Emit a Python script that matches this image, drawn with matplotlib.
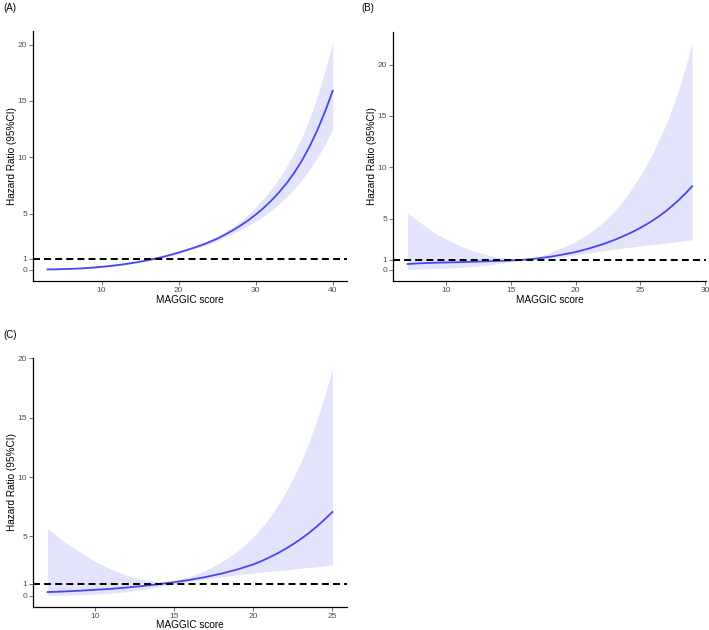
import matplotlib
matplotlib.use("Agg")
import matplotlib.pyplot as plt

plt.rcParams['font.family'] = ['Liberation Sans', 'DejaVu Sans']
plt.rcParams['lines.scale_dashes'] = False

# ---------------- data ----------------
# Panel A
a_x = [3, 4, 5, 6, 7, 8, 9, 10, 11, 12, 13, 14, 15, 16, 17, 18, 19, 20, 21, 22,
       23, 24, 25, 26, 27, 28, 29, 30, 31, 32, 33, 34, 35, 36, 37, 38, 39, 40]
a_hr = [0.04, 0.05, 0.07, 0.09, 0.12, 0.16, 0.21, 0.27, 0.34, 0.42, 0.51, 0.61, 0.73,
        0.86, 1.0, 1.16, 1.34, 1.54, 1.75, 1.97, 2.2, 2.47, 2.77, 3.12, 3.5, 3.92,
        4.38, 4.9, 5.48, 6.13, 6.86, 7.68, 8.62, 9.7, 10.95, 12.4, 14.05, 15.9]
a_lo = [0.022, 0.029, 0.042, 0.057, 0.08, 0.113, 0.156, 0.208, 0.273, 0.351, 0.443,
        0.547, 0.674, 0.806, 0.942, 1.098, 1.268, 1.458, 1.656, 1.855, 2.062, 2.303,
        2.57, 2.88, 3.215, 3.565, 3.92, 4.3, 4.74, 5.25, 5.82, 6.45, 7.16, 7.98,
        8.92, 9.97, 11.16, 12.51]
a_hi = [0.073, 0.087, 0.115, 0.141, 0.179, 0.227, 0.283, 0.351, 0.424, 0.503, 0.587,
        0.681, 0.791, 0.918, 1.062, 1.226, 1.416, 1.627, 1.849, 2.092, 2.348, 2.649,
        2.986, 3.38, 3.811, 4.311, 4.89, 5.58, 6.335, 7.16, 8.09, 9.15, 10.37, 11.79,
        13.44, 15.42, 17.69, 20.2]

# Panel B
b_x = [7, 7.5, 8, 8.5, 9, 9.5, 10, 11, 12, 13, 14, 15, 16, 17, 18, 19, 20, 21, 22,
       22.5, 23, 23.5, 24, 24.5, 25, 25.5, 26, 26.5, 27, 27.5, 28, 28.5, 29]
b_hr = [0.58, 0.62, 0.65, 0.68, 0.7, 0.72, 0.73, 0.76, 0.8, 0.84, 0.88, 0.93, 1.0,
        1.12, 1.28, 1.5, 1.75, 2.08, 2.47, 2.69, 2.93, 3.19, 3.47, 3.77, 4.1, 4.46,
        4.85, 5.28, 5.75, 6.28, 6.85, 7.47, 8.15]
b_lo = [0.03, 0.055, 0.08, 0.105, 0.13, 0.155, 0.18, 0.25, 0.33, 0.45, 0.62, 0.8,
        0.94, 1.02, 1.15, 1.3, 1.47, 1.65, 1.84, 1.93, 2.02, 2.1, 2.18, 2.25, 2.32,
        2.4, 2.47, 2.55, 2.62, 2.7, 2.78, 2.86, 2.95]
b_hi = [5.55, 5.05, 4.6, 4.13, 3.7, 3.33, 3.0, 2.4, 1.9, 1.52, 1.25, 1.1, 1.06, 1.25,
        1.7, 2.2, 2.8, 3.55, 4.5, 5.08, 5.75, 6.48, 7.3, 8.2, 9.2, 10.3, 11.5, 12.85,
        14.2, 15.9, 17.7, 19.8, 22.1]

# Panel C
c_x = [7, 7.5, 8, 8.5, 9, 9.5, 10, 11, 12, 13, 14, 15, 16, 17, 18, 19, 20, 20.5,
       21, 21.5, 22, 22.5, 23, 23.5, 24, 24.5, 25]
c_hr = [0.31, 0.33, 0.36, 0.39, 0.42, 0.46, 0.5, 0.58, 0.69, 0.82, 0.97, 1.14, 1.34,
        1.58, 1.87, 2.22, 2.64, 2.91, 3.22, 3.55, 3.92, 4.33, 4.78, 5.27, 5.82, 6.42,
        7.06]
c_lo = [0.03, 0.04, 0.05, 0.065, 0.08, 0.11, 0.14, 0.22, 0.35, 0.5, 0.75, 0.98, 1.2,
        1.4, 1.6, 1.77, 1.92, 1.99, 2.05, 2.12, 2.18, 2.25, 2.32, 2.38, 2.45, 2.52,
        2.6]
c_hi = [5.7, 5.12, 4.6, 4.15, 3.74, 3.3, 2.9, 2.25, 1.72, 1.38, 1.17, 1.28, 1.62,
        2.15, 2.85, 3.75, 4.95, 5.7, 6.55, 7.5, 8.6, 9.85, 11.25, 12.85, 14.7, 16.8,
        19.1]

y_ticks = [0, 1, 5, 10, 15, 20]
a_xticks = [10, 20, 30, 40]
b_xticks = [10, 15, 20, 25, 30]
c_xticks = [10, 15, 20, 25]
panel_labels = ["(A)", "(B)", "(C)"]
x_title = "MAGGIC score"
y_title = "Hazard Ratio (95%CI)"

panels = [
    (a_x, a_hr, a_lo, a_hi, a_xticks),
    (b_x, b_hr, b_lo, b_hi, b_xticks),
    (c_x, c_hr, c_lo, c_hi, c_xticks),
]

W, H = 709, 630
fig = plt.figure(figsize=(W / 100, H / 100), dpi=100)

# axes boxes in pixels: left, top, right, bottom
boxes = [(33.3, 31, 347, 281), (393.3, 31.7, 706.3, 281), (33.3, 357.7, 346.7, 606.7)]
label_pos = [(3, 8), (361, 8), (3, 335)]

line_col = '#4747f2'
band_col = '#e3e3fc'
tick_col = '#4d4d4d'

for lab, (x, hr, lo, hi, xt), (l, t, r, b), (lx, ly) in zip(panel_labels, panels, boxes, label_pos):
    ax = fig.add_axes([l / W, 1 - b / H, (r - l) / W, (b - t) / H])
    ax.fill_between(x, lo, hi, color=band_col, lw=0, zorder=1)
    ax.plot(x, hr, color=line_col, lw=1.3, zorder=3, solid_joinstyle='round')
    ax.axhline(1, color='black', lw=1.45, dashes=(5.0, 3.0), zorder=4)

    xmin, xmax = min(x), max(x)
    ymin, ymax = min(lo), max(hi)
    dx = (xmax - xmin) * 0.05
    dy = (ymax - ymin) * 0.05
    ax.set_xlim(xmin - dx, xmax + dx)
    ax.set_ylim(ymin - dy, ymax + dy)

    ax.set_xticks(xt)
    ax.set_yticks(y_ticks)
    for s in ['top', 'right']:
        ax.spines[s].set_visible(False)
    for s in ['left', 'bottom']:
        ax.spines[s].set_linewidth(0.9)
        ax.spines[s].set_color('black')
    ax.tick_params(axis='both', length=2.6, width=0.5, color='#333333',
                   labelcolor=tick_col, labelsize=6.0, pad=1.8)
    ax.set_xlabel(x_title, fontsize=7.2, color='black', labelpad=0.3)
    ax.set_ylabel(y_title, fontsize=7.2, color='black', labelpad=0.3)
    fig.text(lx / W, 1 - ly / H, lab, fontsize=7, color='black', ha='left', va='center')

fig.savefig('out.png', dpi=100, facecolor='white')
